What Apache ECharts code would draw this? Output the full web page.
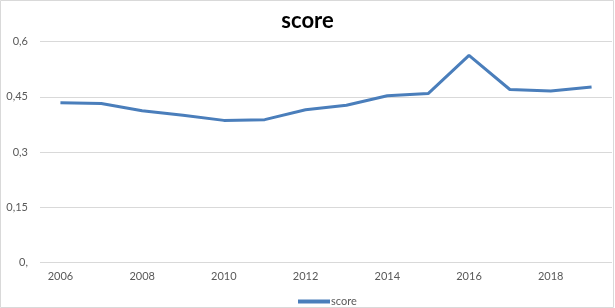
<!DOCTYPE html>
<html><head><meta charset="utf-8">
<script src="https://cdn.jsdelivr.net/npm/echarts@6/dist/echarts.min.js"></script>
<style>html,body{margin:0;padding:0;background:#fff}#c{width:615px;height:308px}</style>
</head><body><div id="c"></div>
<script>
const years = ['2006','2007','2008','2009','2010','2011','2012','2013','2014','2015','2016','2017','2018','2019'];
const scores = [0.434, 0.432, 0.412, 0.400, 0.386, 0.388, 0.415, 0.427, 0.453, 0.459, 0.563, 0.470, 0.466, 0.477];
const yTickLabels = {'0':'0,','0.15':'0,15','0.3':'0,3','0.45':'0,45','0.6':'0,6'};
const seriesName = 'score';
const chart = echarts.init(document.getElementById('c'), null, {renderer:'canvas'});
chart.setOption({
  animation:false,
  backgroundColor:'#fff',
  graphic:[{type:'rect',shape:{x:0.5,y:0.5,width:613,height:307},style:{fill:'none',stroke:'#d9d9d9',lineWidth:1},silent:true}],
  title:{text:'score',left:'center',top:5,textStyle:{fontFamily:'Lato',fontWeight:'bold',fontSize:22,color:'#000'}},
  legend:{left:293,top:291,itemWidth:32,itemHeight:4,itemGap:4,icon:'rect',
    textStyle:{fontFamily:'Lato',fontSize:11,color:'#595959',padding:[0,0,0,-4]},
    data:[{name:seriesName,icon:'rect'}]},
  grid:{left:40,right:3,top:41.7,bottom:45.7},
  xAxis:{type:'category',data:years,boundaryGap:true,
    axisLine:{show:false},axisTick:{show:false},
    axisLabel:{interval:1,margin:9,fontFamily:'Lato',fontSize:11,color:'#595959'}},
  yAxis:{type:'value',min:0,max:0.6,interval:0.15,
    axisLine:{show:false},axisTick:{show:false},
    splitLine:{lineStyle:{color:'#d9d9d9',width:1}},
    axisLabel:{margin:12,fontFamily:'Lato',fontSize:11,color:'#595959',
      formatter:function(v){return yTickLabels[String(Math.round(v*100)/100)]||String(v).replace('.',',');}}},
  series:[{name:seriesName,type:'line',data:scores,symbol:'none',
    lineStyle:{color:'#4a7ebb',width:3},itemStyle:{color:'#4a7ebb'}}]
});
</script></body></html>
